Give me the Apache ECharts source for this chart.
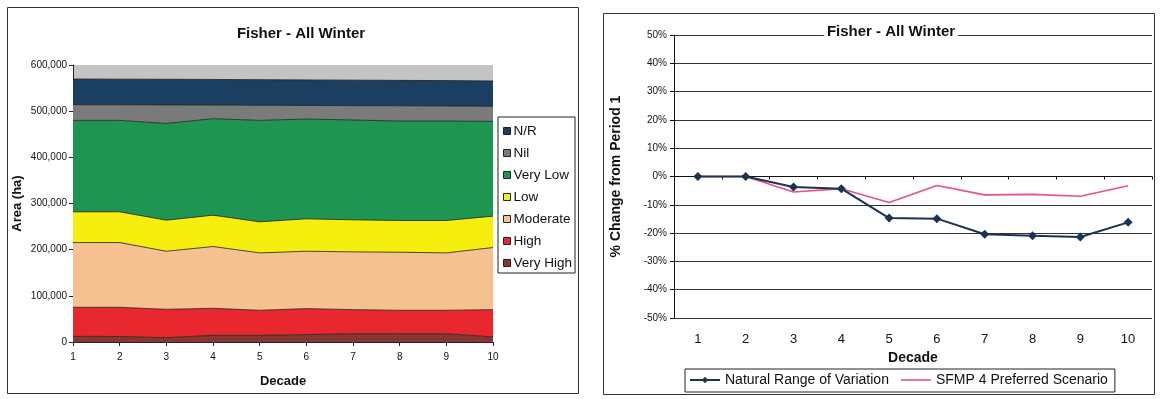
<!DOCTYPE html>
<html>
<head>
<meta charset="utf-8">
<script src="https://cdn.jsdelivr.net/npm/echarts@6/dist/echarts.min.js"></script>
<style>
html,body{margin:0;padding:0;background:#fff;}
#c{width:1161px;height:399px;}
</style>
</head>
<body>
<div id="c"></div>
<script>
// ---- data ----
const decades = ['1','2','3','4','5','6','7','8','9','10'];
// Left chart: stacked areas (ha), bottom to top
const veryHigh = [12300, 12000, 9400, 14500, 14500, 16000, 18000, 18000, 18000, 11000];
const high     = [62900, 63200, 61400, 58500, 54200, 56300, 52100, 50700, 50700, 59100];
const moderate = [140200, 140200, 125800, 133800, 124300, 124300, 125100, 125800, 124300, 134500];
const low      = [66600, 66600, 67300, 67900, 67300, 70200, 69400, 68700, 70200, 68000];
const veryLow  = [198000, 198000, 209600, 209000, 219700, 216200, 216200, 215400, 215400, 205300];
const nil      = [34000, 33800, 40000, 29500, 32800, 29400, 31200, 33000, 32600, 32600];
const nr       = [55700, 55600, 55600, 55500, 55400, 55300, 55200, 55100, 55000, 54900];
// Right chart: % change from period 1
const nrv  = [0, 0, -0.037, -0.043, -0.147, -0.149, -0.204, -0.209, -0.214, -0.162];
const sfmp = [0, 0, -0.055, -0.043, -0.092, -0.032, -0.065, -0.063, -0.070, -0.033];

const F = 'Liberation Sans, Arial, sans-serif';
const areaDefs = [
  ['Very High', veryHigh, '#8a3530'],
  ['High', high, '#e8282e'],
  ['Moderate', moderate, '#f5c18f'],
  ['Low', low, '#f6ee0c'],
  ['Very Low', veryLow, '#1f9552'],
  ['Nil', nil, '#7b7b7b'],
  ['N/R', nr, '#1b3f60']
];

const areaSeries = areaDefs.map(([name, data, col]) => ({
  name, type: 'line', stack: 'total', data,
  xAxisIndex: 0, yAxisIndex: 0,
  symbol: 'none', smooth: false,
  itemStyle: { color: col },
  lineStyle: { color: '#222', width: 0.8 },
  areaStyle: { color: col, opacity: 1 },
  emphasis: { disabled: true },
  animation: false
}));

const chart = echarts.init(document.getElementById('c'), null, { renderer: 'canvas' });
chart.setOption({
  animation: false,
  backgroundColor: '#fff',
  textStyle: { fontFamily: F },
  graphic: [
    { type: 'rect', shape: { x: 7.5, y: 7.5, width: 571, height: 386 }, style: { fill: 'none', stroke: '#333', lineWidth: 1 }, z: 0 },
    { type: 'rect', shape: { x: 603.5, y: 13.5, width: 551, height: 381 }, style: { fill: 'none', stroke: '#333', lineWidth: 1 }, z: 0 }
  ],
  title: [
    { text: 'Fisher - All Winter', left: 296, textAlign: 'center', top: 21,
      textStyle: { fontFamily: F, fontSize: 15, fontWeight: 'bold', color: '#111' } },
    { text: 'Fisher - All Winter', left: 888, textAlign: 'center', top: 23, padding: [1, 3],
      backgroundColor: '#fff',
      textStyle: { fontFamily: F, fontSize: 15, fontWeight: 'bold', color: '#111' }, z: 10 }
  ],
  legend: [
    { orient: 'vertical', left: 498, top: 117, width: 80,
      data: ['N/R', 'Nil', 'Very Low', 'Low', 'Moderate', 'High', 'Very High'],
      icon: 'rect', itemWidth: 7, itemHeight: 7, itemGap: 8,
      itemStyle: { borderColor: '#222', borderWidth: 1 },
      borderColor: '#222', borderWidth: 1, padding: [7, 3, 3, 5],
      textStyle: { fontFamily: F, fontSize: 13.5, color: '#111', padding: [0, 0, 0, -2] },
      selectedMode: false },
    { orient: 'horizontal', left: 685, top: 369,
      data: [
        { name: 'Natural Range of Variation' },
        { name: 'SFMP 4 Preferred Scenario', icon: 'path://M0,0 L30,0 L30,1.6 L0,1.6 Z' }
      ],
      itemWidth: 30, itemHeight: 8, itemGap: 12,
      borderColor: '#222', borderWidth: 1, padding: [4, 7, 5, 4],
      textStyle: { fontFamily: F, fontSize: 14, color: '#111' },
      selectedMode: false }
  ],
  grid: [
    { left: 73, top: 65, width: 420, height: 277, show: true, backgroundColor: '#c4c4c4', borderWidth: 0 },
    { left: 674, top: 35, width: 478, height: 283, show: false }
  ],
  xAxis: [
    { gridIndex: 0, type: 'category', data: decades, boundaryGap: false,
      name: 'Decade', nameLocation: 'middle', nameGap: 33,
      nameTextStyle: { fontFamily: F, fontSize: 13, fontWeight: 'bold', color: '#111', letterSpacing: 1 },
      axisLine: { lineStyle: { color: '#222', width: 1 } },
      axisTick: { show: true, length: 4, inside: false, lineStyle: { color: '#222' } },
      axisLabel: { fontFamily: F, fontSize: 10, color: '#111', margin: 10 },
      splitLine: { show: false } },
    { gridIndex: 1, type: 'category', data: decades, boundaryGap: true, position: 'bottom',
      axisLine: { onZero: true, lineStyle: { color: '#111', width: 1 } },
      axisTick: { show: true, length: 3, lineStyle: { color: '#111' } },
      axisLabel: { show: false }, splitLine: { show: false } },
    { gridIndex: 1, type: 'category', data: decades, boundaryGap: true, position: 'bottom',
      axisLine: { show: false, onZero: false }, axisTick: { show: false },
      axisLabel: { fontFamily: F, fontSize: 13, color: '#111', margin: 15 },
      name: 'Decade', nameLocation: 'middle', nameGap: 33,
      nameTextStyle: { fontFamily: F, fontSize: 14, fontWeight: 'bold', color: '#111' },
      splitLine: { show: false } }
  ],
  yAxis: [
    { gridIndex: 0, type: 'value', min: 0, max: 600000, interval: 100000,
      name: 'Area (ha)', nameLocation: 'middle', nameGap: 49, nameRotate: 90,
      nameTextStyle: { fontFamily: F, fontSize: 13, fontWeight: 'bold', color: '#111' },
      axisLine: { show: true, lineStyle: { color: '#222' } },
      axisTick: { show: true, length: 4, lineStyle: { color: '#222' } },
      axisLabel: { fontFamily: F, fontSize: 10, color: '#111', margin: 6,
        formatter: v => v.toLocaleString('en-US') },
      splitLine: { show: false } },
    { gridIndex: 1, type: 'value', min: -0.5, max: 0.5, interval: 0.1,
      name: '% Change from Period 1', nameLocation: 'middle', nameGap: 51, nameRotate: 90,
      nameTextStyle: { fontFamily: F, fontSize: 14, fontWeight: 'bold', color: '#111' },
      axisLine: { show: true, lineStyle: { color: '#111' } },
      axisTick: { show: true, length: 4, lineStyle: { color: '#111' } },
      axisLabel: { fontFamily: F, fontSize: 10, color: '#111', margin: 7,
        formatter: v => Math.round(v * 100) + '%' },
      splitLine: { show: true, lineStyle: { color: '#333', width: 1 } } }
  ],
  series: areaSeries.concat([
    { name: 'Natural Range of Variation', type: 'line', data: nrv,
      xAxisIndex: 1, yAxisIndex: 1,
      symbol: 'diamond', symbolSize: 9, showAllSymbol: true,
      itemStyle: { color: '#1a3350' },
      lineStyle: { color: '#1a3350', width: 2 }, z: 5 },
    { name: 'SFMP 4 Preferred Scenario', type: 'line', data: sfmp,
      xAxisIndex: 1, yAxisIndex: 1,
      symbol: 'none',
      itemStyle: { color: '#e8508c' },
      lineStyle: { color: '#e8508c', width: 1.6 }, z: 4 }
  ])
});
</script>
</body>
</html>
